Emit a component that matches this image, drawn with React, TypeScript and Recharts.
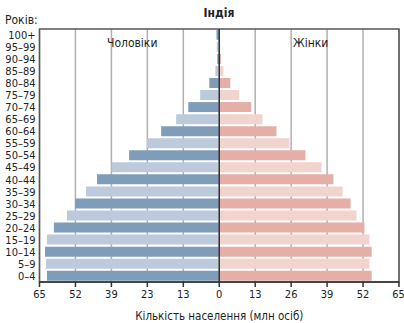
import { BarChart, Bar, XAxis, YAxis, CartesianGrid, Cell, ReferenceLine, ReferenceArea } from "recharts";

const ages = ["0–4", "5–9", "10–14", "15–19", "20–24", "25–29", "30–34", "35–39", "40–44", "45–49", "50–54", "55–59", "60–64", "65–69", "70–74", "75–79", "80–84", "85–89", "90–94", "95–99", "100+"];
const male = [62.3, 62.7, 63, 62.3, 59.8, 55.1, 52.1, 48.2, 44.2, 38.9, 32.6, 26.2, 21, 15.6, 11.2, 6.9, 3.6, 1.4, 0.7, 0.9, 1.0];
const female = [55.1, 54.3, 55.1, 54.3, 52.5, 49.6, 47.5, 44.6, 41.3, 37, 31.2, 25.4, 20.7, 15.6, 11.6, 7.2, 4, 1.5, 0.6, 0.2, 0.1];
const ticks = [-65, -52, -39, -26, -13, 0, 13, 26, 39, 52, 65];
const tickLabels = ["65", "52", "39", "23", "13", "0", "13", "26", "39", "52", "65"];

const data = ages.map((age, i) => ({ age, male: -male[i], female: female[i] }));

const FONT = "'DejaVu Sans Condensed', 'Liberation Sans Narrow', sans-serif";
const TEXT = "#222";

const App = () => {
  return (
    <div style={{ position: "fixed", left: 0, top: 0, width: 404, height: 323, background: "#fff", fontFamily: FONT }}>
      <div style={{ position: "absolute", left: 0, width: 438, top: 6, textAlign: "center", fontSize: 12, fontWeight: "bold", color: TEXT }}>
        Індія
      </div>
      <div style={{ position: "absolute", left: 5, top: 13, fontSize: 12, color: TEXT }}>Років:</div>
      <div style={{ position: "absolute", left: 107, top: 36, fontSize: 12, color: TEXT, zIndex: 2 }}>Чоловіки</div>
      <div style={{ position: "absolute", left: 293, top: 36, fontSize: 12, color: TEXT, zIndex: 2 }}>Жінки</div>
      <BarChart
        width={404}
        height={323}
        data={data}
        layout="vertical"
        stackOffset="sign"
        barCategoryGap={0.8}
        margin={{ top: 29, right: 5, bottom: 0, left: 0 }}
      >
        <CartesianGrid horizontal={false} stroke="#b0b0b0" strokeWidth={1.5} />
        <XAxis
          type="number"
          domain={[-65, 65]}
          ticks={ticks}
          tickFormatter={(_v: number, i: number) => tickLabels[i]}
          height={41}
          tickSize={5}
          tickMargin={3}
          axisLine={{ stroke: "#333", strokeWidth: 1.5 }}
          tickLine={{ stroke: "#333", strokeWidth: 1.5 }}
          tick={{ fill: TEXT, fontSize: 11, fontFamily: FONT }}
          label={{ value: "Кількість населення (млн осіб)", position: "insideBottom", offset: 3, fill: TEXT, fontSize: 11.5, fontFamily: FONT }}
        />
        <YAxis
          type="category"
          dataKey="age"
          reversed
          width={39.5}
          axisLine={false}
          tickLine={false}
          tickSize={0}
          tickMargin={4}
          interval={0}
          tick={{ fill: TEXT, fontSize: 11, fontFamily: FONT }}
        />
        <Bar dataKey="male" stackId="p" isAnimationActive={false}>
          {data.map((_d, i) => (
            <Cell key={i} fill={i % 2 === 0 ? "#7f9cb8" : "#bccadb"} />
          ))}
        </Bar>
        <Bar dataKey="female" stackId="p" isAnimationActive={false}>
          {data.map((_d, i) => (
            <Cell key={i} fill={i % 2 === 0 ? "#e5aea6" : "#f2d4cf"} />
          ))}
        </Bar>
        <ReferenceLine x={0} stroke="#333" strokeWidth={1.5} />
        <ReferenceArea x1={-65} x2={65} fill="none" stroke="#555" strokeWidth={1.5} />
      </BarChart>
    </div>
  );
};

export default App;
